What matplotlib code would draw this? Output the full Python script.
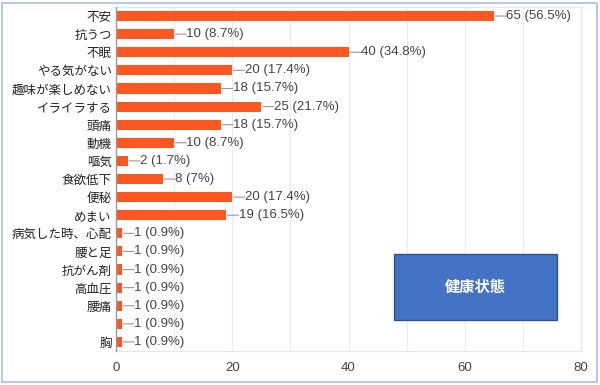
import matplotlib
matplotlib.use("Agg")
import matplotlib.pyplot as plt
import matplotlib.patches as patches

plt.rcParams['font.family'] = ['Noto Sans CJK JP', 'DejaVu Sans']
num_font = ['Liberation Sans', 'DejaVu Sans']

categories = ["不安", "抗うつ", "不眠", "やる気がない", "趣味が楽しめない", "イライラする",
              "頭痛", "動機", "嘔気", "食欲低下", "便秘", "めまい", "病気した時、心配",
              "腰と足", "抗がん剤", "高血圧", "腰痛", "", "胸"]
counts = [65, 10, 40, 20, 18, 25, 18, 10, 2, 8, 20, 19, 1, 1, 1, 1, 1, 1, 1]
percents = ["56.5%", "8.7%", "34.8%", "17.4%", "15.7%", "21.7%", "15.7%", "8.7%", "1.7%",
            "7%", "17.4%", "16.5%", "0.9%", "0.9%", "0.9%", "0.9%", "0.9%", "0.9%", "0.9%"]
xticks = [0, 20, 40, 60, 80]

fig = plt.figure(figsize=(6, 3.85), dpi=100)
ax = fig.add_axes([116/600, 34/385, 465/600, 344/385])

pos = list(range(len(categories)))
ax.barh(pos, counts, height=0.56, color="#FF5722", zorder=3)

for i, (c, p) in enumerate(zip(counts, percents)):
    ax.annotate(f"{c} ({p})", xy=(c + 0.2, i), xytext=(8, 0), textcoords="offset points",
                ha="left", va="center", fontsize=9.5, color="#444444", family=num_font,
                arrowprops=dict(arrowstyle="-", color="#999999", lw=0.8, relpos=(0, 0.5),
                                patchA=None, shrinkA=0, shrinkB=0))

ax.set_xlim(0, 80)
ax.set_ylim(len(categories) - 0.5, -0.5)
ax.set_yticks(pos)
ax.set_yticklabels(categories, fontsize=9, color="#222222")
ax.set_xticks(xticks)
ax.set_xticklabels([str(t) for t in xticks], fontsize=9.5, color="#444444", family=num_font)
ax.set_xticks(range(10, 80, 20), minor=True)
ax.tick_params(axis="both", which="both", length=0)
ax.tick_params(axis="x", pad=8)
ax.tick_params(axis="y", pad=3)
ax.grid(axis="x", which="both", color="#EBEBEB", lw=0.8, zorder=0)
for s in ["top", "right", "bottom"]:
    ax.spines[s].set_color("#E6E6E6")
    ax.spines[s].set_linewidth(0.8)
ax.spines["left"].set_color("#999999")
ax.spines["left"].set_linewidth(1.0)
ax.spines["left"].set_zorder(4)

# outer frame
fig.patches.append(patches.Rectangle((2/600, 3/385), 595/600, 379/385, transform=fig.transFigure,
                                     fill=False, edgecolor="#A9BFE6", lw=1.2))

# title box
box = patches.Rectangle((394/600, 65/385), 163/600, 66/385, transform=fig.transFigure,
                        facecolor="#4472C4", edgecolor="#2F528F", lw=1.0, zorder=5)
fig.patches.append(box)
fig.text((394 + 163/2)/600, (65 + 33)/385, "健康状態", color="white", fontsize=11,
         fontweight="bold", ha="center", va="center", zorder=6)

fig.savefig("out.png", dpi=100)
